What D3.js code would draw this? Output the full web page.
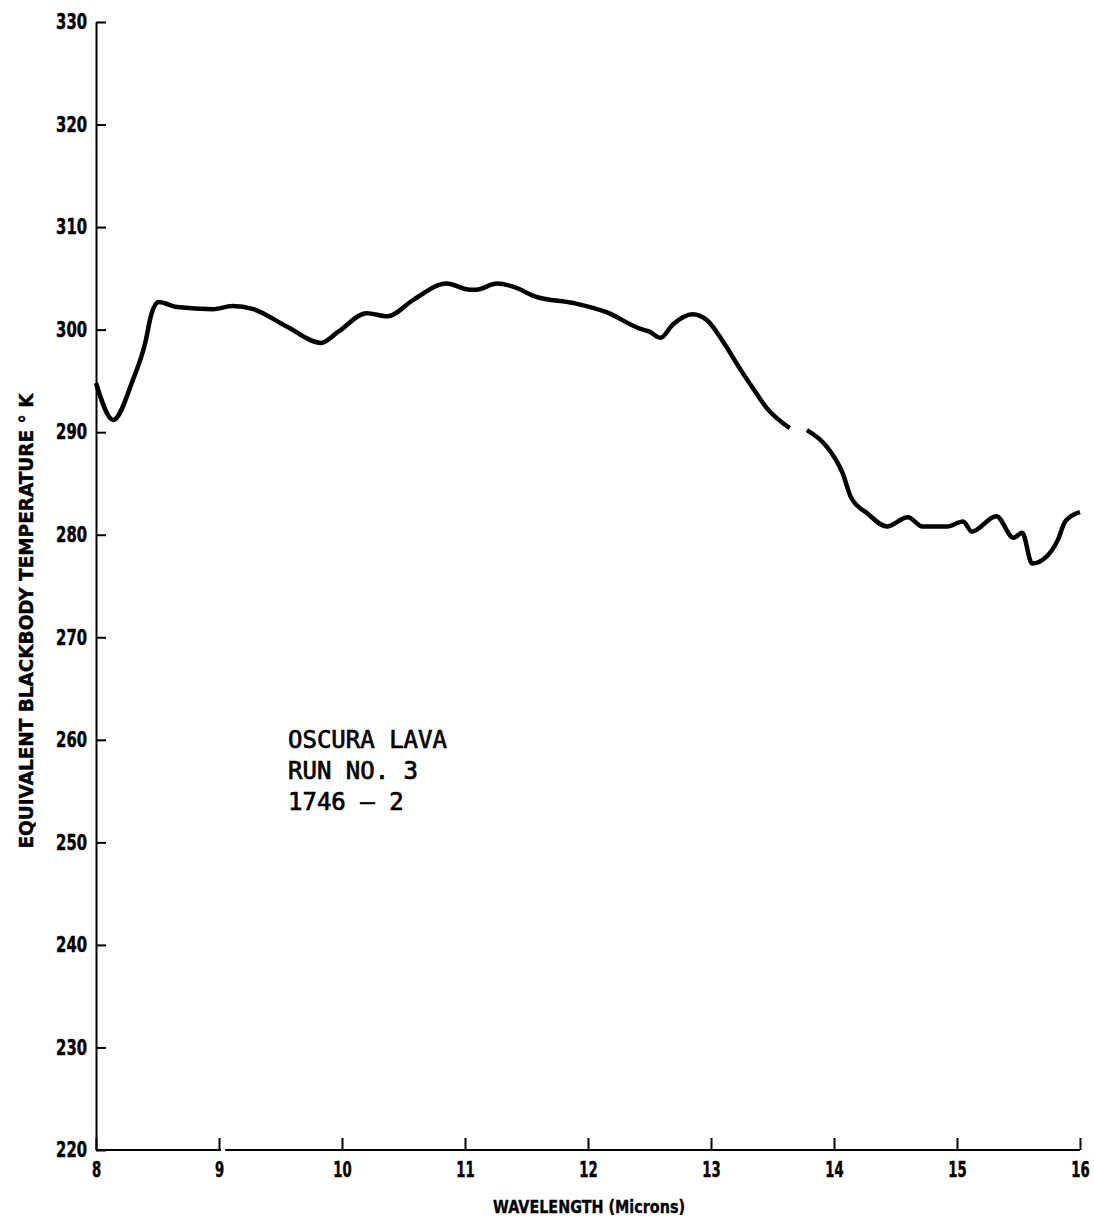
<!DOCTYPE html>
<html>
<head>
<meta charset="utf-8">
<script src="https://cdn.jsdelivr.net/npm/d3@7"></script>
<style>
  html, body { margin: 0; padding: 0; background: #fff; }
  svg { display: block; }
  .tick text { font-family: "DejaVu Sans", sans-serif; font-weight: bold; font-size: 21px; fill: #000; stroke: #000; stroke-width: 0.5px; }
</style>
</head>
<body>
<script>
// ---- data ----
const xTicks = [8, 9, 10, 11, 12, 13, 14, 15, 16];
const yTicks = [220, 230, 240, 250, 260, 270, 280, 290, 300, 310, 320, 330];
const wavelength = [8.00, 8.14, 8.30, 8.40, 8.45, 8.51, 8.66, 8.95, 9.11, 9.28, 9.55, 9.83, 9.97,
  10.20, 10.37, 10.58, 10.85, 11.04, 11.09, 11.26, 11.39, 11.58, 11.88, 12.15, 12.42, 12.50,
  12.59, 12.69, 12.85, 12.97, 13.10, 13.24, 13.34, 13.45, 13.64, 13.71, 13.78, 13.94, 14.07,
  14.14, 14.27, 14.43, 14.60, 14.72, 14.92, 15.05, 15.12, 15.32, 15.46, 15.53, 15.61, 15.73,
  15.82, 15.88, 16.00];
const temperature = [294.8, 291.2, 295.1, 298.7, 301.5, 302.7, 302.2, 302.0, 302.3, 302.0, 300.3, 298.7, 299.8,
  301.6, 301.3, 302.9, 304.5, 303.9, 303.9, 304.5, 304.2, 303.2, 302.6, 301.7, 300.1, 299.8,
  299.2, 300.5, 301.5, 300.9, 298.8, 296.1, 294.3, 292.4, 290.4, null, 290.2, 288.6, 286.0,
  283.6, 282.1, 280.8, 281.7, 280.8, 280.8, 281.3, 280.3, 281.8, 279.7, 280.2, 277.2, 277.9,
  279.5, 281.3, 282.2];
const xTitle = "WAVELENGTH (Microns)";
const yTitle = "EQUIVALENT BLACKBODY TEMPERATURE ° K";
const noteLines = ["OSCURA LAVA", "RUN NO. 3", "1746 – 2"];

// ---- chart ----
const W = 1094, H = 1222;
const svg = d3.select("body").append("svg").attr("width", W).attr("height", H);

const x = d3.scaleLinear().domain([8, 16]).range([96, 1080]);
const y = d3.scaleLinear().domain([220, 330]).range([1150, 22]);

// y axis
const yAxis = d3.axisLeft(y).tickValues(yTicks).tickFormat(d3.format("d"))
  .tickSizeInner(-10).tickSizeOuter(0).tickPadding(9);
const gy = svg.append("g").attr("transform", `translate(${x(8)},0)`).call(yAxis);
gy.selectAll("path, line").attr("stroke", "#000").attr("stroke-width", 2);
gy.selectAll(".tick text")
  .attr("textLength", d => String(d).length * 10.3)
  .attr("lengthAdjust", "spacingAndGlyphs");

// x axis
const xAxis = d3.axisBottom(x).tickValues(xTicks).tickFormat(d3.format("d"))
  .tickSizeInner(-12).tickSizeOuter(0).tickPadding(12);
const gx = svg.append("g").attr("transform", `translate(0,${y(220)})`).call(xAxis);
gx.selectAll("path, line").attr("stroke", "#000").attr("stroke-width", 2);
gx.select(".domain").attr("d", `M${x(8)},0H${x(16)}`);
gx.selectAll(".tick text")
  .attr("textLength", d => String(d).length * 9.2)
  .attr("lengthAdjust", "spacingAndGlyphs");
// small break in the baseline just after 9
svg.append("line").attr("x1", x(9) + 2).attr("x2", x(9.05)).attr("y1", y(220)).attr("y2", y(220))
  .attr("stroke", "#fff").attr("stroke-width", 4);

// curve
const line = d3.line()
  .defined(d => d[1] !== null)
  .x(d => x(d[0])).y(d => y(d[1]))
  .curve(d3.curveMonotoneX);
const pts = wavelength.map((w, i) => [w, temperature[i]]);
svg.append("path").datum(pts)
  .attr("d", line)
  .attr("fill", "none").attr("stroke", "#000").attr("stroke-width", 4.5)
  .attr("stroke-linejoin", "round").attr("stroke-linecap", "butt");

// axis titles
svg.append("text")
  .attr("x", 589).attr("y", 1213)
  .attr("text-anchor", "middle")
  .attr("textLength", 192).attr("lengthAdjust", "spacingAndGlyphs")
  .style("font-family", "'DejaVu Sans', sans-serif")
  .style("font-weight", "bold").style("font-size", "18px")
  .attr("stroke", "#000").attr("stroke-width", 0.4)
  .text(xTitle);

svg.append("text")
  .attr("transform", "translate(33,621) rotate(-90)")
  .attr("text-anchor", "middle")
  .attr("textLength", 455).attr("lengthAdjust", "spacingAndGlyphs")
  .style("font-family", "'DejaVu Sans', sans-serif")
  .style("font-weight", "bold").style("font-size", "19px")
  .attr("stroke", "#000").attr("stroke-width", 0.4)
  .text(yTitle);

// annotation
svg.append("g").selectAll("text").data(noteLines).join("text")
  .attr("x", 288).attr("y", (d, i) => 748 + i * 31)
  .style("font-family", "'DejaVu Sans Mono', monospace")
  .style("font-size", "24px")
  .attr("stroke", "#000").attr("stroke-width", 0.7)
  .text(d => d);
</script>
</body>
</html>
